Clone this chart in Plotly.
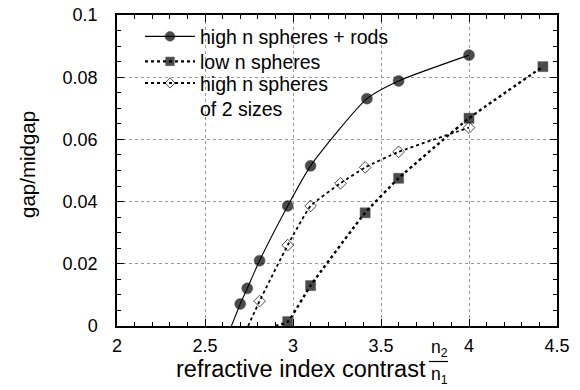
import plotly.graph_objects as go

# high n spheres + rods
rods_x = [2.65, 2.70, 2.74, 2.81, 2.97, 3.10, 3.42, 3.60, 4.00]
rods_y = [0.0, 0.0071, 0.0121, 0.0210, 0.0386, 0.0515, 0.0731, 0.0788, 0.0871]
rods_marker = [0, 11, 11, 11, 11, 11, 11, 11, 11]

# low n spheres
low_x = [2.90, 2.97, 3.10, 3.41, 3.60, 4.00, 4.42]
low_y = [0.0, 0.0014, 0.0130, 0.0364, 0.0475, 0.0668, 0.0834]
low_marker = [0, 10, 10, 10, 10, 10, 10]

# high n spheres of 2 sizes
two_x = [2.745, 2.81, 2.97, 3.10, 3.27, 3.41, 3.60, 4.00]
two_y = [0.0, 0.0080, 0.0260, 0.0386, 0.0459, 0.0510, 0.0560, 0.0638]
two_marker = [0, 9, 9, 9, 9, 9, 9, 9]

x_ticks = [2, 2.5, 3, 3.5, 4, 4.5]
y_ticks = [0, 0.02, 0.04, 0.06, 0.08, 0.1]
y_labels = ["0", "0.02", "0.04", "0.06", "0.08", "0.1"]

FONT = "Liberation Sans, Arial, Helvetica, sans-serif"

# page body has an 8px margin; plot area should span x 117..557, y 15..326
OFF = 8
W, H = 580 - OFF, 390 - OFF
L, T = 117 - OFF, 15 - OFF
R = W - (557 - OFF)
B = H - (326 - OFF)


def px(xp):
    return (xp - 117) / 440


def py(yp):
    return (326 - yp) / 311


fig = go.Figure()
fig.add_trace(go.Scatter(
    x=rods_x, y=rods_y, mode="lines+markers", name="high n spheres + rods",
    legend="legend",
    line=dict(color="black", width=1.1, shape="spline", smoothing=0.6),
    marker=dict(symbol="circle", size=rods_marker, color="#000000",
                line=dict(color="#000000", width=0.5)),
))
fig.add_trace(go.Scatter(
    x=low_x, y=low_y, mode="lines+markers", name="low n spheres",
    legend="legend2",
    line=dict(color="black", width=2.4, dash="dot", shape="spline", smoothing=0.4),
    marker=dict(symbol="square", size=low_marker, color="#000000",
                line=dict(color="#000000", width=0.5)),
))
fig.add_trace(go.Scatter(
    x=two_x, y=two_y, mode="lines+markers", name="high n spheres<br>of 2 sizes",
    legend="legend3",
    line=dict(color="black", width=1.8, dash="dot", shape="spline", smoothing=0.4),
    marker=dict(symbol="diamond-open", size=two_marker, color="black",
                line=dict(color="black", width=1)),
))

axis_common = dict(
    showline=True, linecolor="black", linewidth=1.5, mirror="ticks",
    ticks="inside", ticklen=7, tickwidth=1, tickcolor="black",
    showgrid=True, gridcolor="#999", griddash="dot", gridwidth=1,
    zeroline=False, ticklabeloverflow="allow", automargin=False,
    tickfont=dict(family=FONT, size=18, color="black"),
)

fig.update_xaxes(
    range=[2, 4.5], tickvals=x_ticks, ticktext=[str(v) for v in x_ticks],
    minor=dict(dtick=0.1, ticks="inside", ticklen=4, tickcolor="black", showgrid=False),
    ticklabelstandoff=3,
    **axis_common,
)
fig.update_yaxes(
    range=[0, 0.1], tickvals=y_ticks, ticktext=y_labels,
    minor=dict(dtick=0.005, ticks="inside", ticklen=4, tickcolor="black", showgrid=False),
    ticklabelstandoff=14,
    **axis_common,
)

leg_common = dict(xanchor="left", bgcolor="rgba(0,0,0,0)", borderwidth=0,
                  font=dict(family=FONT, size=19.5, color="black"),
                  itemwidth=50)

fig.update_layout(
    width=W, height=H,
    margin=dict(l=L, r=R, t=T, b=B, autoexpand=False),
    paper_bgcolor="white", plot_bgcolor="white",
    showlegend=True,
    legend=dict(x=px(140), y=py(36.7), yanchor="middle", **leg_common),
    legend2=dict(x=px(140), y=py(61.7), yanchor="middle", **leg_common),
    legend3=dict(x=px(140), y=py(95.8), yanchor="middle", valign="top", **leg_common),
    font=dict(family=FONT, color="black"),
)

# y-axis title
fig.add_annotation(text="gap/midgap", xref="paper", yref="paper",
                   x=px(27), y=py(165), xanchor="center", yanchor="middle",
                   textangle=-90, showarrow=False,
                   font=dict(family=FONT, size=20.5, color="black"))

# x-axis title with fraction n2/n1
fig.add_annotation(text="refractive index contrast", xref="paper", yref="paper",
                   x=px(428), y=py(369), xanchor="right", yanchor="middle",
                   showarrow=False, font=dict(family=FONT, size=23.5, color="black"))
fig.add_annotation(text="n<sub>2</sub>", xref="paper", yref="paper",
                   x=px(439), y=py(362), xanchor="center", yanchor="bottom",
                   showarrow=False, font=dict(family=FONT, size=17.5, color="black"))
fig.add_annotation(text="n<sub>1</sub>", xref="paper", yref="paper",
                   x=px(439), y=py(362), xanchor="center", yanchor="top",
                   showarrow=False, font=dict(family=FONT, size=17.5, color="black"))
fig.add_shape(type="line", xref="paper", yref="paper",
              x0=px(429), x1=px(448), y0=py(361.5), y1=py(361.5),
              line=dict(color="black", width=1.2))

fig.write_html("out.html")
